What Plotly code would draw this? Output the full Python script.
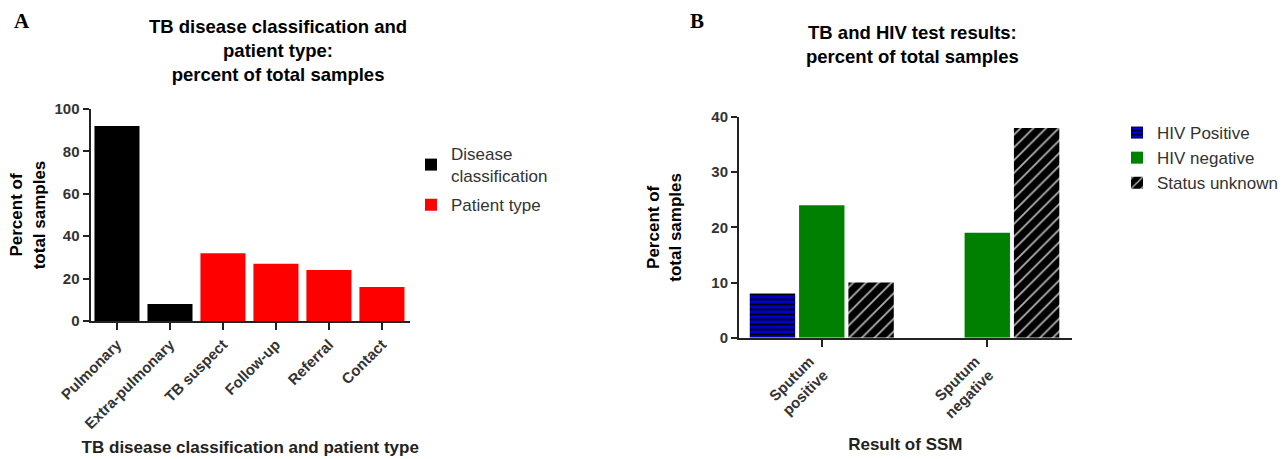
import plotly.graph_objects as go

# Panel A data
disease_cats = ["Pulmonary", "Extra-pulmonary"]
disease_vals = [92, 8]
patient_cats = ["TB suspect", "Follow-up", "Referral", "Contact"]
patient_vals = [32, 27, 24, 16]
a_cats = disease_cats + patient_cats
a_yticks = [0, 20, 40, 60, 80, 100]

# Panel B data
b_cats = ["Sputum<br>positive", "Sputum<br>negative"]
hiv_pos = [8, None]
hiv_neg = [24, 19]
status_unknown = [10, 38]
b_yticks = [0, 10, 20, 30, 40]

W, H = 1286, 459
def px(x): return x / W
def py(y): return 1 - y / H

FONT = "Arial, Liberation Sans, sans-serif"
fig = go.Figure()

fig.add_trace(go.Bar(x=disease_cats, y=disease_vals, name="Disease<br>classification",
                     marker=dict(color="black", line=dict(width=0)), width=0.85,
                     offsetgroup="A", legendgroup="dc",
                     xaxis="x", yaxis="y", legend="legend"))
fig.add_trace(go.Bar(x=patient_cats, y=patient_vals, name="Patient type",
                     marker=dict(color="#ff0000", line=dict(width=0)), width=0.85,
                     offsetgroup="A", legendgroup="pt",
                     xaxis="x", yaxis="y", legend="legend"))

fig.add_trace(go.Bar(x=b_cats, y=hiv_pos, name="HIV Positive",
                     marker=dict(color="#0000c8", line=dict(width=0),
                                 pattern=dict(shape="-", bgcolor="#0000c8", fgcolor="black",
                                              size=5, solidity=0.35, fillmode="replace")),
                     offsetgroup="1", xaxis="x2", yaxis="y2", legend="legend2"))
fig.add_trace(go.Bar(x=b_cats, y=hiv_neg, name="HIV negative",
                     marker=dict(color="#008000", line=dict(width=0)),
                     offsetgroup="2", xaxis="x2", yaxis="y2", legend="legend2"))
fig.add_trace(go.Bar(x=b_cats, y=status_unknown, name="Status unknown",
                     marker=dict(color="black", line=dict(width=0),
                                 pattern=dict(shape="/", bgcolor="black", fgcolor="#b0b0b0",
                                              size=9, solidity=0.2, fillmode="replace")),
                     offsetgroup="3", xaxis="x2", yaxis="y2", legend="legend2"))

ytickfont = dict(family=FONT, size=15, color="#333333", weight="bold")
xtickfont = dict(family=FONT, size=15, color="#333333", weight="bold")
ytitlefont = dict(family=FONT, size=17, color="black", weight="bold")
xtitlefont = dict(family=FONT, size=17, color="#222222", weight="bold")
axis_common = dict(showline=True, linecolor="#222222", linewidth=2, ticks="outside",
                   tickcolor="#222222", tickwidth=2, showgrid=False, zeroline=False,
                   automargin=False)

fig.update_layout(
    width=W, height=H, margin=dict(l=0, r=0, t=0, b=0, autoexpand=False),
    paper_bgcolor="white", plot_bgcolor="white",
    barmode="group", bargap=0.106, bargroupgap=0.08,
    font=dict(family=FONT, color="#333333"),
    xaxis=dict(domain=[px(90.5), px(410)], anchor="y", categoryorder="array",
               categoryarray=a_cats, range=[-0.5, 5.53], tickangle=-45, ticklen=7,
               tickfont=xtickfont,
               title=dict(text="TB disease classification and patient type", font=xtitlefont,
                          standoff=10),
               **axis_common),
    yaxis=dict(domain=[py(321), py(109)], anchor="x", range=[0, 100],
               tickvals=a_yticks, ticklen=6, tickfont=ytickfont,
               title=dict(text="Percent of<br>total samples", font=ytitlefont, standoff=5),
               **axis_common),
    xaxis2=dict(domain=[px(739), px(1071.7)], anchor="y2", range=[-0.5, 1.51],
                tickangle=-45, ticklen=7, tickfont=xtickfont, ticklabelshift=-12,
                title=dict(text="Result of SSM", font=xtitlefont, standoff=18),
                **axis_common),
    yaxis2=dict(domain=[py(337.7), py(117)], anchor="x2", range=[0, 40],
                tickvals=b_yticks, ticklen=6, tickfont=ytickfont,
                title=dict(text="Percent of<br>total samples", font=ytitlefont, standoff=25),
                **axis_common),
    legend=dict(x=px(411), y=py(136), xanchor="left", yanchor="top",
                font=dict(family=FONT, size=17, color="#333333"),
                tracegroupgap=4, bgcolor="rgba(0,0,0,0)"),
    legend2=dict(x=px(1117), y=py(115), xanchor="left", yanchor="top",
                 font=dict(family=FONT, size=17, color="#333333"),
                 bgcolor="rgba(0,0,0,0)"),
    showlegend=True,
)

annotations = [
    dict(text="<b>A</b>", x=px(12), y=py(7), xanchor="left", yanchor="top",
         font=dict(family="Times New Roman, Liberation Serif, serif", size=21, color="black")),
    dict(text="<b>B</b>", x=px(688), y=py(7), xanchor="left", yanchor="top",
         font=dict(family="Times New Roman, Liberation Serif, serif", size=21, color="black")),
    dict(text="<b>TB disease classification and<br>patient type:<br>percent of total samples</b>",
         x=px(278), y=py(14), xanchor="center", yanchor="top",
         font=dict(family=FONT, size=18.5, color="black")),
    dict(text="<b>TB and HIV test results:<br>percent of total samples</b>",
         x=px(912), y=py(20), xanchor="center", yanchor="top",
         font=dict(family=FONT, size=18.5, color="black")),
]
for a in annotations:
    a.update(xref="paper", yref="paper", showarrow=False)
fig.update_layout(annotations=annotations)

fig.write_html("out.html")
